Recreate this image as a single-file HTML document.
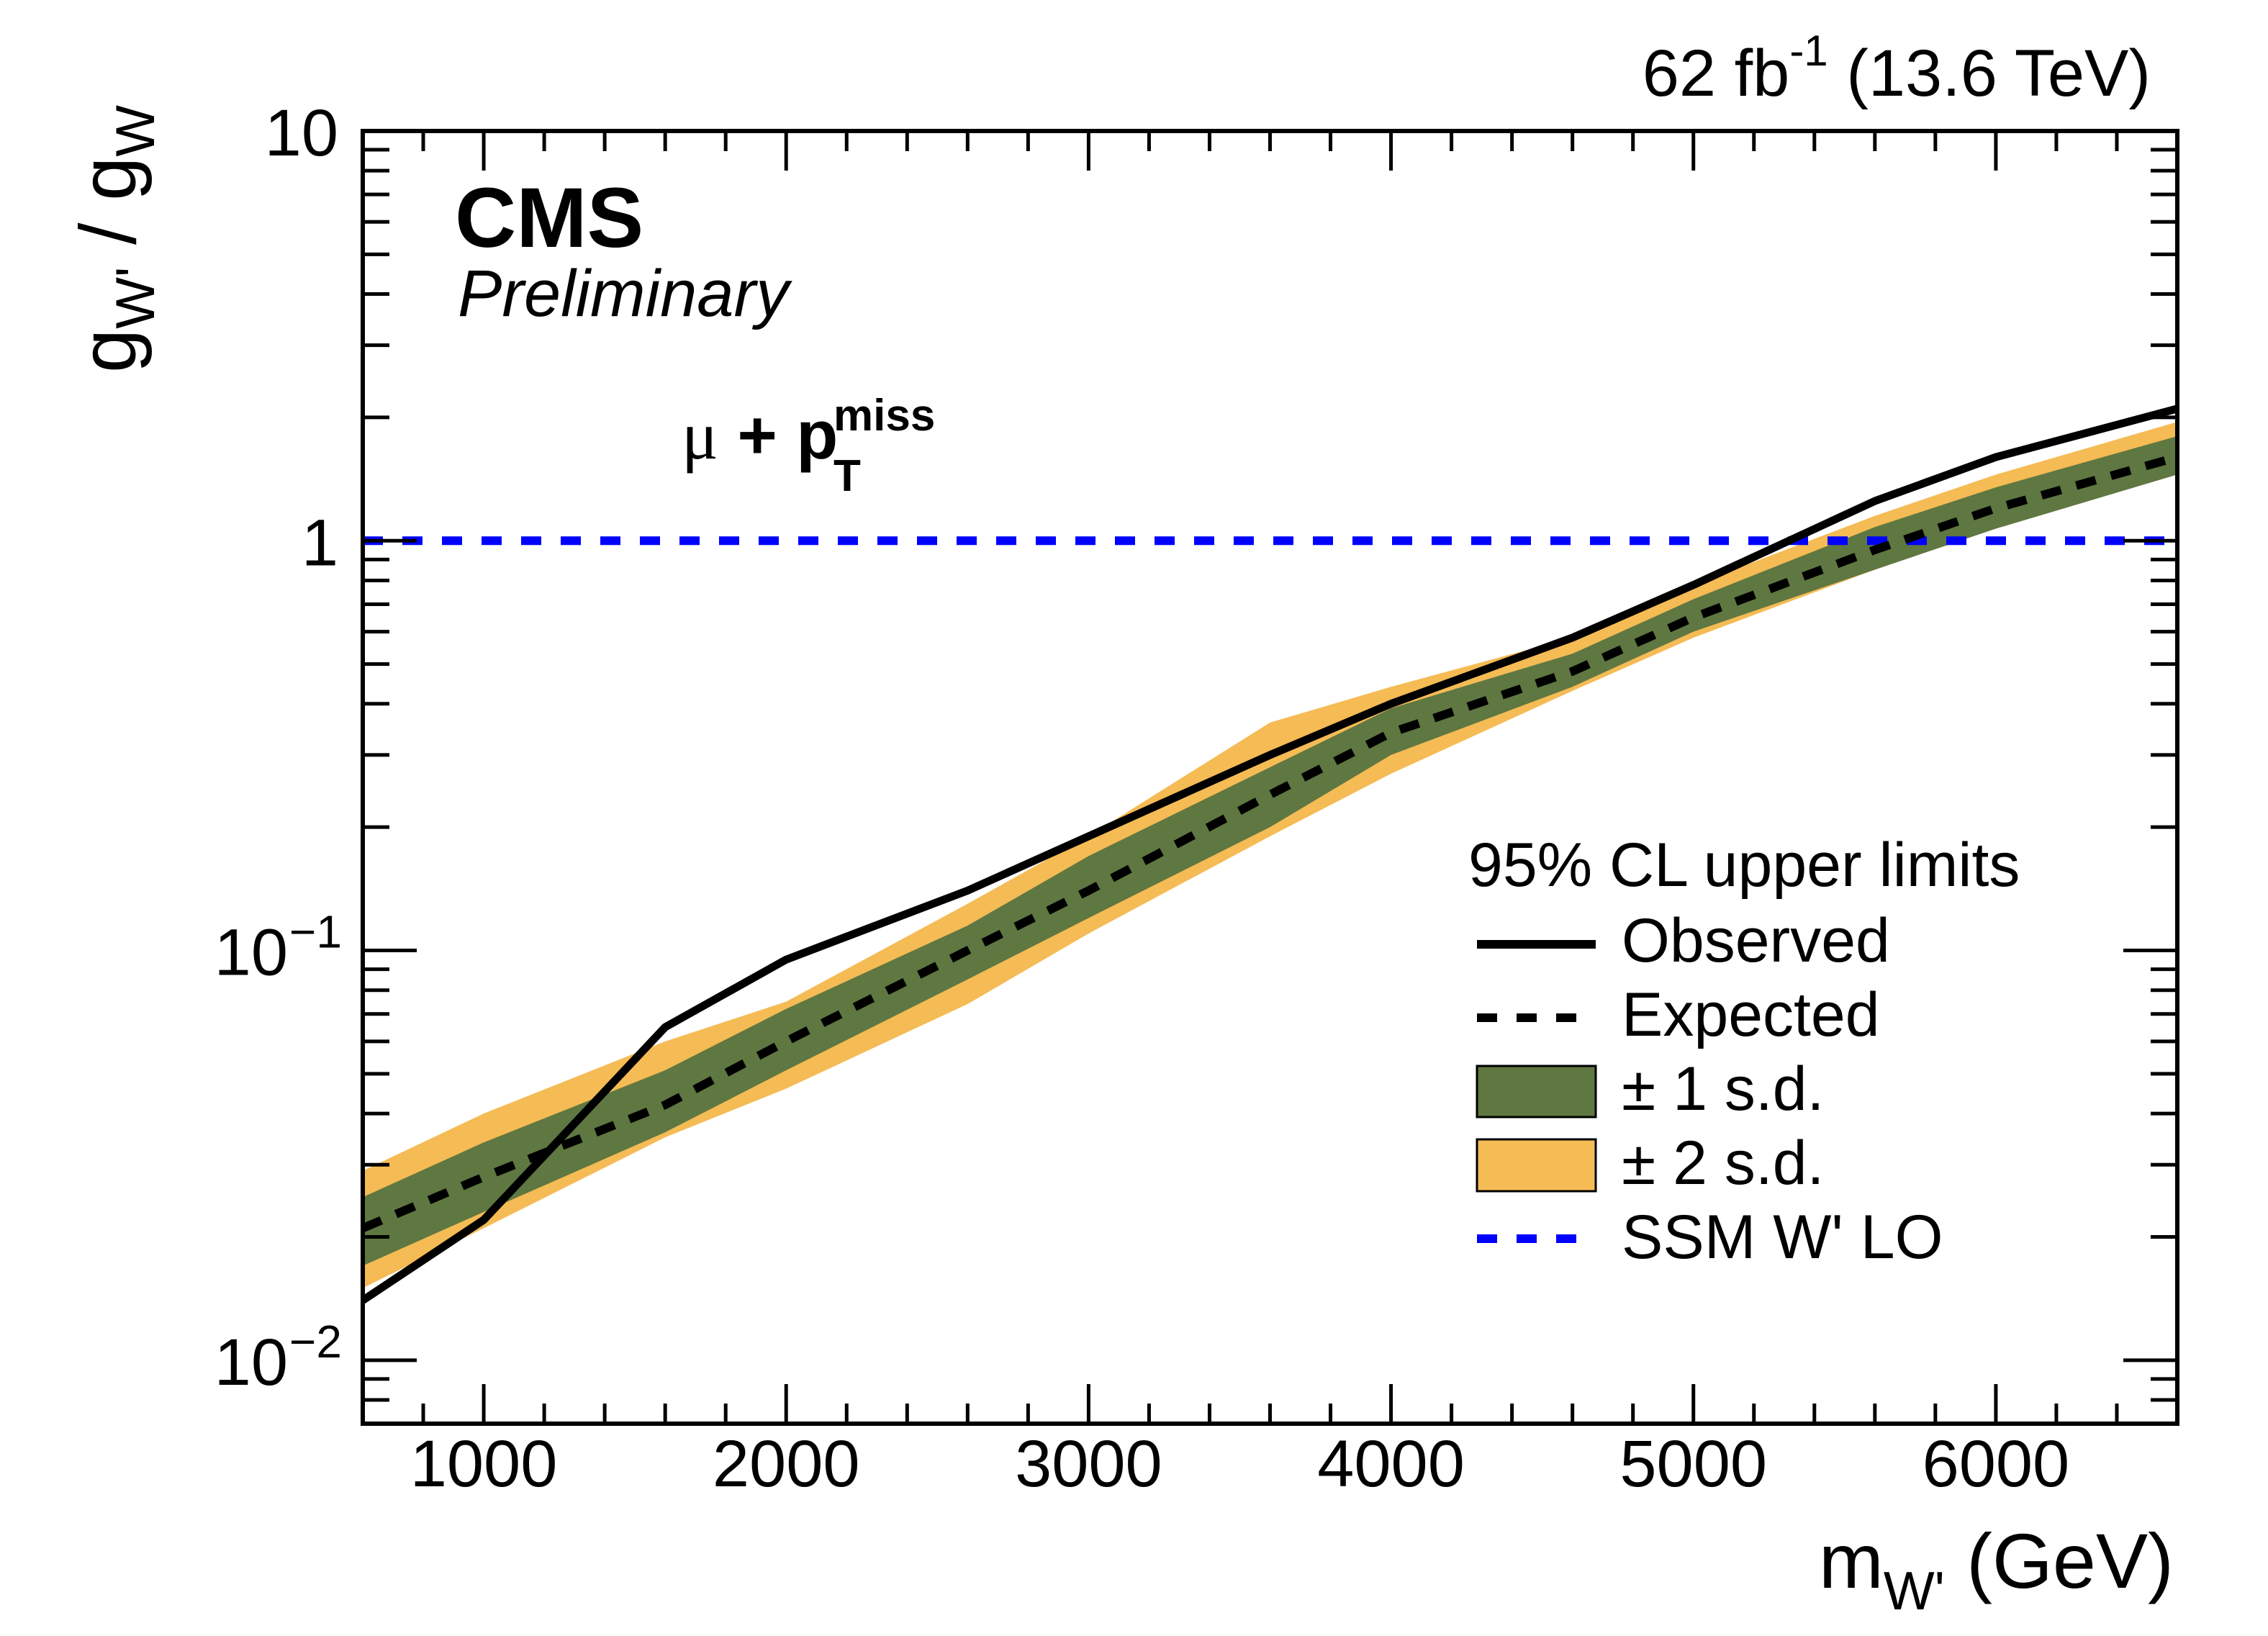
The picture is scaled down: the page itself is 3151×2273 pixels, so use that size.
<!DOCTYPE html>
<html><head><meta charset="utf-8"><style>
html,body{margin:0;padding:0;background:#fff;}
svg{display:block;font-family:"Liberation Sans",Arial,sans-serif;}
</style></head><body>
<svg id="chart" width="3151" height="2273" viewBox="0 0 3151 2273" xmlns="http://www.w3.org/2000/svg">
<g id="bands"></g>
<g id="lines"></g>
<g id="axes"></g>
<text x="2988" y="133" font-size="92" text-anchor="end">62 fb<tspan font-size="60" dy="-42">-1</tspan><tspan dy="42"> (13.6 TeV)</tspan></text>
<text x="632" y="343" font-size="118" font-weight="bold">CMS</text>
<text x="636" y="439" font-size="92" font-style="italic">Preliminary</text>
<text x="947" y="637" font-size="95" font-weight="bold"><tspan font-family="Liberation Serif" font-weight="normal">μ</tspan> + p</text>
<text x="1158" y="598" font-size="62" font-weight="bold">miss</text>
<text x="1158" y="682" font-size="62" font-weight="bold">T</text>
<text transform="translate(188,518) rotate(-90)" font-size="110">g<tspan font-size="76" dy="26">W'</tspan><tspan dy="-26"> / g</tspan><tspan font-size="76" dy="26">W</tspan></text>
<text x="3020" y="2206" font-size="108" text-anchor="end">m<tspan font-size="75" dy="30">W'</tspan><tspan dy="-30"> (GeV)</tspan></text>
<g>
<text x="2040" y="1231" font-size="86">95% CL upper limits</text>
<line x1="2052" y1="1312" x2="2217" y2="1312" stroke="#000" stroke-width="12"/>
<text x="2253" y="1336" font-size="86">Observed</text>
<line x1="2052" y1="1414" x2="2217" y2="1414" stroke="#000" stroke-width="12" stroke-dasharray="28,27"/>
<text x="2253" y="1439" font-size="86">Expected</text>
<rect x="2052" y="1481" width="165" height="71" fill="#5f7741" stroke="#000" stroke-width="3"/>
<text x="2253" y="1542" font-size="86">± 1 s.d.</text>
<rect x="2052" y="1583" width="165" height="72" fill="#f5bb54" stroke="#000" stroke-width="3"/>
<text x="2253" y="1645" font-size="86">± 2 s.d.</text>
<line x1="2052" y1="1721" x2="2192" y2="1721" stroke="#0000ff" stroke-width="12" stroke-dasharray="28,27"/>
<text x="2253" y="1748" font-size="86">SSM W' LO</text>
</g>
</svg>
<script>
const masses=[600,1000,1600,2000,2600,3000,3600,4000,4600,5000,5600,6000,6600];
const observed=[0.014,0.022,0.065,0.095,0.14,0.19,0.30,0.40,0.58,0.78,1.25,1.60,2.10];
const expected=[0.021,0.028,0.042,0.060,0.100,0.140,0.240,0.340,0.480,0.650,0.950,1.200,1.600];
const up1=[0.025,0.034,0.051,0.072,0.115,0.17,0.28,0.39,0.53,0.72,1.08,1.35,1.80];
const lo1=[0.017,0.023,0.036,0.051,0.085,0.12,0.20,0.30,0.44,0.60,0.85,1.07,1.45];
const up2=[0.029,0.040,0.060,0.075,0.130,0.19,0.36,0.44,0.58,0.78,1.15,1.45,1.95];
const lo2=[0.015,0.021,0.035,0.046,0.074,0.11,0.19,0.27,0.43,0.58,0.85,1.08,1.45];
const ssm=[1,1];
const xTicks=[1000,2000,3000,4000,5000,6000];
const xTickLabels=["1000","2000","3000","4000","5000","6000"];
const yTicks=[10,1,0.1,0.01];
const yTickLabels=["10","1","10","10"];
const yTickExp=["","","−1","−2"];

const L=504,R=3025,T=182,B=1978,XMIN=600,XMAX=6600,LYMIN=Math.log10(0.007),LYMAX=1;
const X=v=>L+(v-XMIN)/(XMAX-XMIN)*(R-L);
const Y=v=>T+(LYMAX-Math.log10(v))/(LYMAX-LYMIN)*(B-T);
const NS="http://www.w3.org/2000/svg";
function mk(tag,parent,attrs){const e=document.createElementNS(NS,tag);for(const k in attrs)e.setAttribute(k,attrs[k]);parent.appendChild(e);return e;}
const bands=document.getElementById('bands'),lines=document.getElementById('lines'),axes=document.getElementById('axes');
function bandPath(u,l){let d='';masses.forEach((m,i)=>{d+=(i?'L':'M')+X(m)+','+Y(u[i]);});for(let i=masses.length-1;i>=0;i--)d+='L'+X(masses[i])+','+Y(l[i]);return d+'Z';}
function linePath(v){return masses.map((m,i)=>(i?'L':'M')+X(m)+','+Y(v[i])).join('');}
let b2=mk('path',bands,{d:bandPath(up2,lo2),fill:'#f5bb54'});


let b1=mk('path',bands,{d:bandPath(up1,lo1),fill:'#5f7741'});


let sl=mk('line',lines,{x1:X(XMIN),x2:X(XMAX),y1:Y(ssm[0]),y2:Y(ssm[1]),stroke:'#0000ff','stroke-width':12,'stroke-dasharray':'28,27'});


let ex=mk('path',lines,{d:linePath(expected),fill:'none',stroke:'#000','stroke-width':12,'stroke-dasharray':'28,22'});


let ob=mk('path',lines,{d:linePath(observed),fill:'none',stroke:'#000','stroke-width':11,'stroke-linejoin':'round'});


let fr=mk('rect',axes,{x:L,y:T,width:R-L,height:B-T,fill:'none',stroke:'#000','stroke-width':6});


for(let v=XMIN;v<=XMAX;v+=200){
  const major=v%1000===0,len=major?55:28,x=X(v);
  let t1=mk('line',axes,{x1:x,x2:x,y1:B,y2:B-len,stroke:'#000','stroke-width':5});
  
  
  let t2=mk('line',axes,{x1:x,x2:x,y1:T,y2:T+len,stroke:'#000','stroke-width':5});
  
  
}
xTicks.forEach((v,i)=>{let t=mk('text',axes,{x:X(v),y:2065,'font-size':92,'text-anchor':'middle'});t.textContent=xTickLabels[i];

});
for(let d=-3;d<=0;d++){for(let k=1;k<=9;k++){const v=k*Math.pow(10,d);if(v<0.007||v>10)continue;const y=Y(v),len=k===1?75:37;
  let t1=mk('line',axes,{x1:L,x2:L+len,y1:y,y2:y,stroke:'#000','stroke-width':5});
  
  
  let t2=mk('line',axes,{x1:R,x2:R-len,y1:y,y2:y,stroke:'#000','stroke-width':5});
  
  }}
yTicks.forEach((v,i)=>{let t=mk('text',axes,{x:yTickExp[i]?400:470,y:Y(v)+34,'font-size':92,'text-anchor':'end'});t.textContent=yTickLabels[i];


if(yTickExp[i]){let e=mk('text',axes,{x:402,y:Y(v)-4,'font-size':64});e.textContent=yTickExp[i];

}});
</script>
</body></html>
